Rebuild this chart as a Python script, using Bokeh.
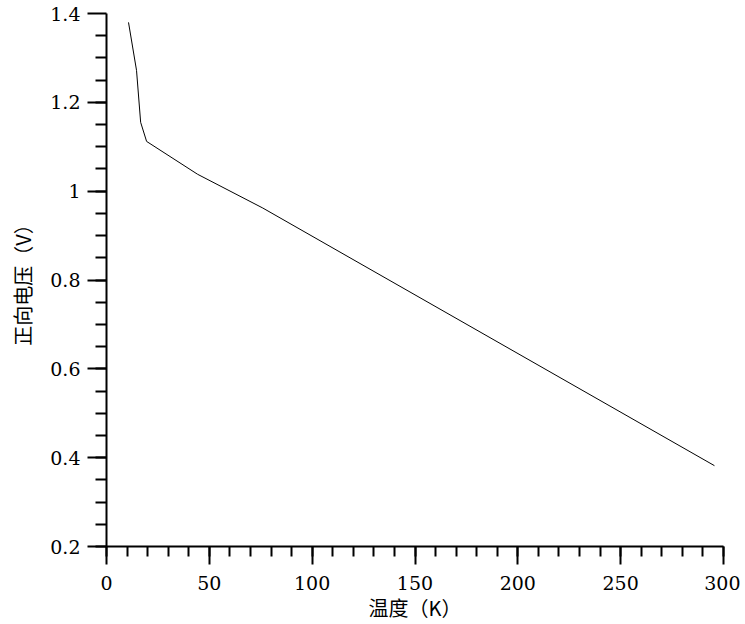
from bokeh.plotting import figure
from bokeh.models import Range1d, FixedTicker
from bokeh.embed import file_html
from bokeh.resources import INLINE

# Data
temperature_K = [10.7, 14.6, 16.6, 19.5, 44.3, 76.0, 295.6]
forward_voltage_V = [1.380, 1.272, 1.155, 1.112, 1.038, 0.962, 0.382]

x_ticks = [0, 50, 100, 150, 200, 250, 300]
x_tick_labels = ["0", "50", "100", "150", "200", "250", "300"]
x_minor = [v for v in range(0, 301, 10)]
y_ticks = [0.2, 0.4, 0.6, 0.8, 1.0, 1.2, 1.4]
y_tick_labels = ["0.2", "0.4", "0.6", "0.8", "1", "1.2", "1.4"]
y_minor = [0.2 + 0.05 * i for i in range(25)]

x_title = "温度（K）"
y_title = "正向电压（V）"

p = figure(width=740, height=624, output_backend="svg", toolbar_location=None,
           x_range=Range1d(0, 300), y_range=Range1d(0.2, 1.4),
           min_border_left=106, min_border_right=17, min_border_top=13, min_border_bottom=77)
p.outline_line_color = None
p.grid.visible = False
p.background_fill_color = "white"
p.border_fill_color = "white"

p.line(temperature_K, forward_voltage_V, line_color="black", line_width=1)

xa = p.xaxis[0]
xa.ticker = FixedTicker(ticks=x_ticks, minor_ticks=x_minor)
xa.major_label_overrides = {t: l for t, l in zip(x_ticks, x_tick_labels)}
ya = p.yaxis[0]
ya.ticker = FixedTicker(ticks=y_ticks, minor_ticks=y_minor)
ya.major_label_overrides = {t: l for t, l in zip(y_ticks, y_tick_labels)}

for ax in (xa, ya):
    ax.axis_line_color = "black"
    ax.axis_line_width = 2
    ax.major_tick_line_color = "black"
    ax.major_tick_line_width = 2
    ax.minor_tick_line_color = "black"
    ax.minor_tick_line_width = 2
    ax.major_tick_in = 0
    ax.minor_tick_in = 0
    ax.major_label_text_font = "DejaVu Serif"
    ax.major_label_text_font_size = "19px"
    ax.major_label_text_color = "black"
    ax.axis_label_text_font = "Noto Sans CJK SC"
    ax.axis_label_text_font_size = "20px"
    ax.axis_label_text_font_style = "normal"
    ax.axis_label_text_color = "black"

xa.axis_label = x_title
xa.major_tick_out = 18
xa.minor_tick_out = 10
xa.major_label_standoff = 11
xa.axis_label_standoff = 0

ya.axis_label = y_title
ya.major_tick_out = 19
ya.minor_tick_out = 11
ya.major_label_standoff = 7
ya.axis_label_standoff = 10

open("out.html", "w").write(file_html(p, INLINE))
